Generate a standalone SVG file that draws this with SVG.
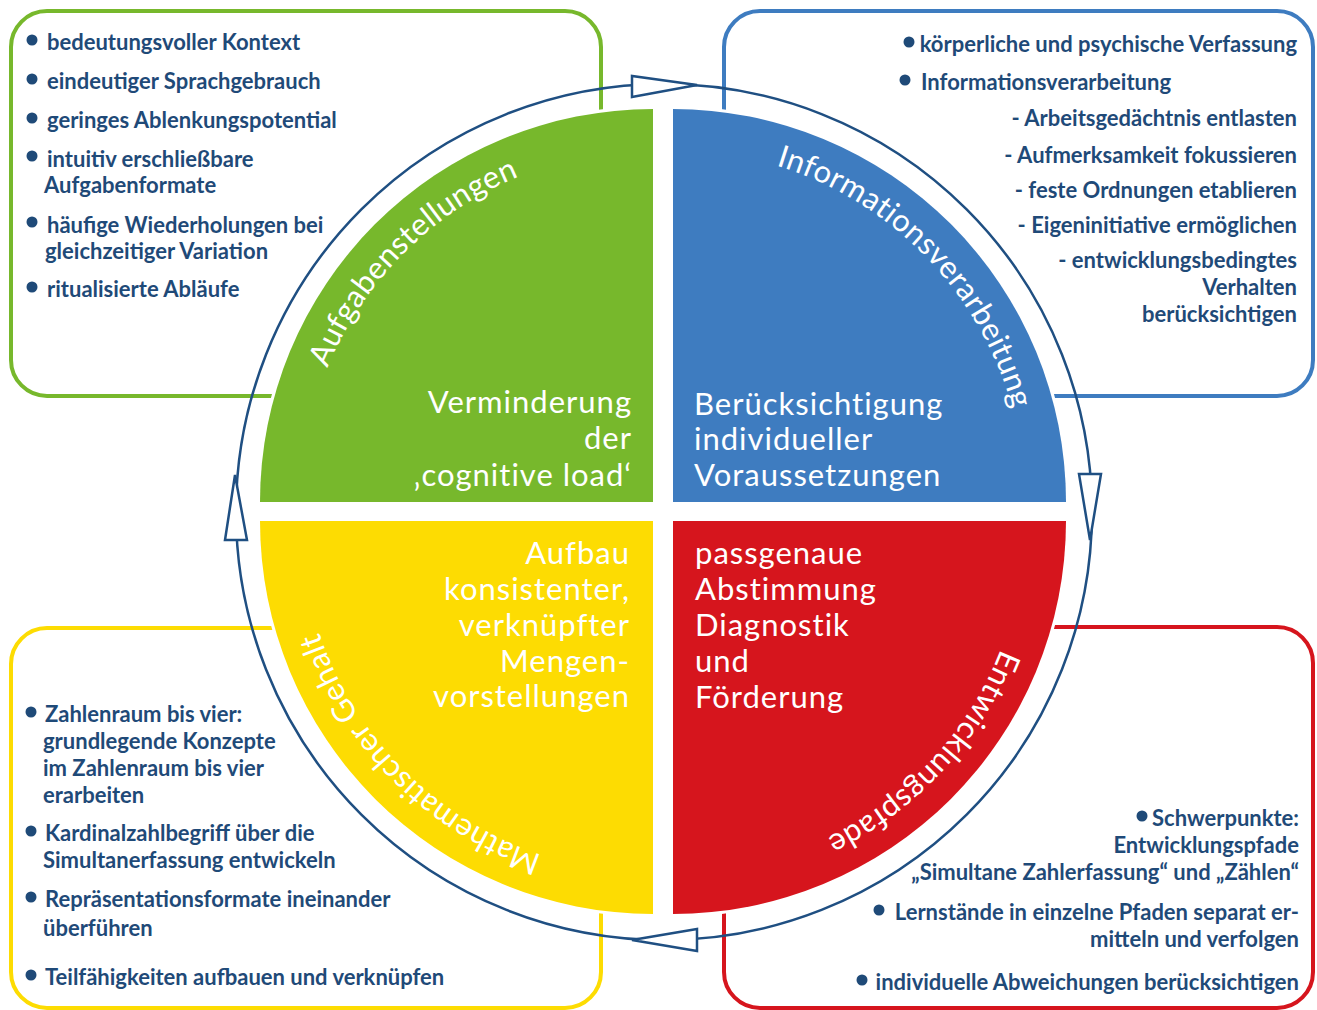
<svg xmlns="http://www.w3.org/2000/svg" width="1317" height="1010" viewBox="0 0 1317 1010">
  <defs>
    <style>
      .box { fill: #fff; stroke-width: 4; }
      .item { font-family: Lato, "Liberation Sans", sans-serif; font-weight: 700; font-size: 22px; fill: #1f4a78; }
      .dot { fill: #1f4a78; }
      .quad { stroke: #fff; stroke-width: 6; paint-order: stroke; }
      .qtext { font-family: Lato, "Open Sans", sans-serif; font-weight: 400; font-size: 31px; fill: #fff; letter-spacing: 1px; }
      .end { text-anchor: end; }
      .arc { font-family: Lato, "Open Sans", sans-serif; font-weight: 400; font-size: 31px; fill: #fff; letter-spacing: 0.4px; }
      .ring { fill: none; stroke: #1f4f82; stroke-width: 2.5; }
      .arrow { fill: #fff; stroke: #1f4f82; stroke-width: 2.5; stroke-linejoin: miter; }
    </style>
    <!-- baseline arcs for the quadrant titles, drawn clockwise so glyph tops face outward -->
    <path id="arcGreen" d="M301,502 A352,352 0 0 1 653,150"/>
    <path id="arcBlue" d="M673,150 A352,352 0 0 1 1025,502"/>
    <path id="arcRed" d="M1025,521 A352,352 0 0 1 673,873"/>
    <path id="arcYellow" d="M653,873 A352,352 0 0 1 301,521"/>
  </defs>

  <rect width="1317" height="1010" fill="#fff"/>

  <!-- outer boxes -->
  <g id="box-green">
    <rect class="box" x="11" y="11" width="590" height="385" rx="36" stroke="#77b82c"/>
    <g class="item">
      <circle class="dot" cx="32" cy="40" r="5.5"/>
      <text x="47" y="50">bedeutungsvoller Kontext</text>
      <circle class="dot" cx="32" cy="79" r="5.5"/>
      <text x="47" y="89">eindeutiger Sprachgebrauch</text>
      <circle class="dot" cx="32" cy="118" r="5.5"/>
      <text x="47" y="128">geringes Ablenkungspotential</text>
      <circle class="dot" cx="32" cy="156" r="5.5"/>
      <text x="47" y="167">intuitiv erschließbare</text>
      <text x="44" y="193">Aufgabenformate</text>
      <circle class="dot" cx="32" cy="222" r="5.5"/>
      <text x="47" y="233">häufige Wiederholungen bei</text>
      <text x="45" y="259">gleichzeitiger Variation</text>
      <circle class="dot" cx="32" cy="287" r="5.5"/>
      <text x="47" y="297">ritualisierte Abläufe</text>
    </g>
  </g>

  <g id="box-blue">
    <rect class="box" x="724" y="11" width="589" height="385" rx="36" stroke="#3e7cc0"/>
    <g class="item">
      <circle class="dot" cx="909" cy="42" r="5.5"/>
      <text x="1297" y="52" text-anchor="end">körperliche und psychische Verfassung</text>
      <circle class="dot" cx="905" cy="80" r="5.5"/>
      <text x="921" y="90">Informationsverarbeitung</text>
      <text x="1297" y="126" text-anchor="end">- Arbeitsgedächtnis entlasten</text>
      <text x="1297" y="163" text-anchor="end">- Aufmerksamkeit fokussieren</text>
      <text x="1297" y="198" text-anchor="end">- feste Ordnungen etablieren</text>
      <text x="1297" y="233" text-anchor="end">- Eigeninitiative ermöglichen</text>
      <text x="1297" y="268" text-anchor="end">- entwicklungsbedingtes</text>
      <text x="1297" y="295" text-anchor="end">Verhalten</text>
      <text x="1297" y="322" text-anchor="end">berücksichtigen</text>
    </g>
  </g>

  <g id="box-yellow">
    <rect class="box" x="11" y="628" width="590" height="380" rx="36" stroke="#fddc02"/>
    <g class="item">
      <circle class="dot" cx="31" cy="712" r="5.5"/>
      <text x="45" y="722">Zahlenraum bis vier:</text>
      <text x="43" y="749">grundlegende Konzepte</text>
      <text x="43" y="776">im Zahlenraum bis vier</text>
      <text x="43" y="803">erarbeiten</text>
      <circle class="dot" cx="31" cy="831" r="5.5"/>
      <text x="45" y="841">Kardinalzahlbegriff über die</text>
      <text x="43" y="868">Simultanerfassung entwickeln</text>
      <circle class="dot" cx="31" cy="897" r="5.5"/>
      <text x="45" y="907">Repräsentationsformate ineinander</text>
      <text x="43" y="936">überführen</text>
      <circle class="dot" cx="31" cy="975" r="5.5"/>
      <text x="45" y="985">Teilfähigkeiten aufbauen und verknüpfen</text>
    </g>
  </g>

  <g id="box-red">
    <rect class="box" x="724" y="627" width="589" height="381" rx="36" stroke="#d6151d"/>
    <g class="item">
      <circle class="dot" cx="1142" cy="816" r="5.5"/>
      <text x="1299" y="826" text-anchor="end">Schwerpunkte:</text>
      <text x="1299" y="853" text-anchor="end">Entwicklungspfade</text>
      <text x="1299" y="880" text-anchor="end">„Simultane Zahlerfassung“ und „Zählen“</text>
      <circle class="dot" cx="879" cy="910" r="5.5"/>
      <text x="1299" y="920" text-anchor="end">Lernstände in einzelne Pfaden separat er-</text>
      <text x="1299" y="947" text-anchor="end">mitteln und verfolgen</text>
      <circle class="dot" cx="862" cy="980" r="5.5"/>
      <text x="1299" y="990" text-anchor="end">individuelle Abweichungen berücksichtigen</text>
    </g>
  </g>

  <!-- the four quadrants of the central disc -->
  <g id="quad-green">
    <path class="quad" d="M653,502 L260,502 A393,393 0 0 1 653,109 Z" fill="#77b82c"/>
    <text class="arc"><textPath href="#arcGreen" startOffset="50%" text-anchor="middle">Aufgabenstellungen</textPath></text>
    <text class="qtext end" x="632" y="413">Verminderung</text>
    <text class="qtext end" x="632" y="449">der</text>
    <text class="qtext end" x="632" y="486">‚cognitive load‘</text>
  </g>

  <g id="quad-blue">
    <path class="quad" d="M673,502 L673,109 A393,393 0 0 1 1066,502 Z" fill="#3e7cc0"/>
    <text class="arc"><textPath href="#arcBlue" startOffset="51%" text-anchor="middle">Informationsverarbeitung</textPath></text>
    <text class="qtext" x="694" y="415">Berücksichtigung</text>
    <text class="qtext" x="694" y="450">individueller</text>
    <text class="qtext" x="694" y="486">Voraussetzungen</text>
  </g>

  <g id="quad-red">
    <path class="quad" d="M673,521 L1066,521 A393,393 0 0 1 673,914 Z" fill="#d6151d"/>
    <text class="arc"><textPath href="#arcRed" startOffset="47.5%" text-anchor="middle">Entwicklungspfade</textPath></text>
    <text class="qtext" x="695" y="564">passgenaue</text>
    <text class="qtext" x="695" y="600">Abstimmung</text>
    <text class="qtext" x="695" y="636">Diagnostik</text>
    <text class="qtext" x="695" y="672">und</text>
    <text class="qtext" x="695" y="708">Förderung</text>
  </g>

  <g id="quad-yellow">
    <path class="quad" d="M653,521 L653,914 A393,393 0 0 1 260,521 Z" fill="#fddc02"/>
    <text class="arc"><textPath href="#arcYellow" startOffset="50%" text-anchor="middle">Mathematischer Gehalt</textPath></text>
    <text class="qtext end" x="630" y="564">Aufbau</text>
    <text class="qtext end" x="630" y="600">konsistenter,</text>
    <text class="qtext end" x="630" y="636">verknüpfter</text>
    <text class="qtext end" x="630" y="672">Mengen-</text>
    <text class="qtext end" x="630" y="707">vorstellungen</text>
  </g>

  <!-- clockwise cycle ring with its four arrowheads -->
  <g id="connectors">
    <circle class="ring" cx="664" cy="512" r="428"/>
    <polygon class="arrow" points="632,76 632,97 697,85"/>
    <polygon class="arrow" points="1079,474 1101,474 1090,540"/>
    <polygon class="arrow" points="697,929 697,951 632,940"/>
    <polygon class="arrow" points="225,540 247,540 235,475"/>
  </g>
</svg>
